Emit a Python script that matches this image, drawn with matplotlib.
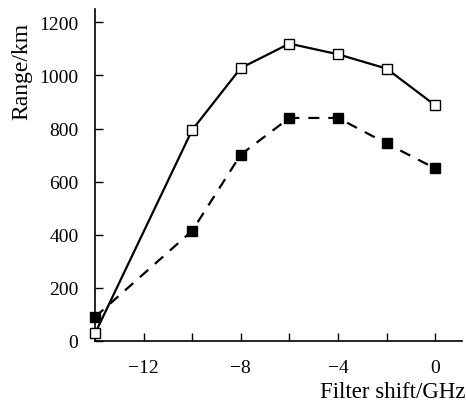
import matplotlib
matplotlib.use('Agg')
import matplotlib.pyplot as plt
from matplotlib.ticker import MultipleLocator

shift = [-14, -10, -8, -6, -4, -2, 0]
range_open = [28, 795, 1028, 1120, 1080, 1026, 888]
range_filled = [90, 415, 702, 840, 840, 744, 650]

plt.rcParams['font.family'] = ['Liberation Serif', 'DejaVu Serif']
plt.rcParams['font.size'] = 14

fig = plt.figure(figsize=(4.66, 4.06), dpi=100)
ax = fig.add_axes([0.204, 0.158, 0.787, 0.817])

ax.plot(shift, range_open, '-', color='black', lw=1.6, marker='s', ms=6.5,
        mfc='white', mec='black', mew=1.0, zorder=3)
ax.plot(shift, range_filled, '--', color='black', lw=1.6, dashes=(5, 4), marker='s', ms=6.5,
        mfc='black', mec='black', zorder=3)

ax.set_xlim(-14, 1.1)
ax.set_ylim(0, 1250)
ax.xaxis.set_minor_locator(MultipleLocator(2))
ax.yaxis.set_major_locator(MultipleLocator(200))
ax.set_xticks([-12, -8, -4, 0])
ax.set_xticklabels(['\u221212', '\u22128', '\u22124', '0'])

for s in ['top', 'right']:
    ax.spines[s].set_visible(False)
for s in ['left', 'bottom']:
    ax.spines[s].set_linewidth(1.2)

ax.tick_params(which='both', direction='in', width=1.0)
ax.tick_params(which='major', length=6)
ax.tick_params(which='minor', length=6)
ax.tick_params(axis='y', pad=12)
ax.tick_params(axis='x', pad=13)

ax.set_ylabel('Range/km', loc='top', fontsize=17)
ax.yaxis.set_label_coords(-0.17, 0.961)
ax.set_xlabel('Filter shift/GHz', loc='right', fontsize=16.5)
ax.xaxis.set_label_coords(1.011, -0.12)

for m in ax.lines:
    m.set_clip_on(False)

fig.savefig('out.png', dpi=100)
